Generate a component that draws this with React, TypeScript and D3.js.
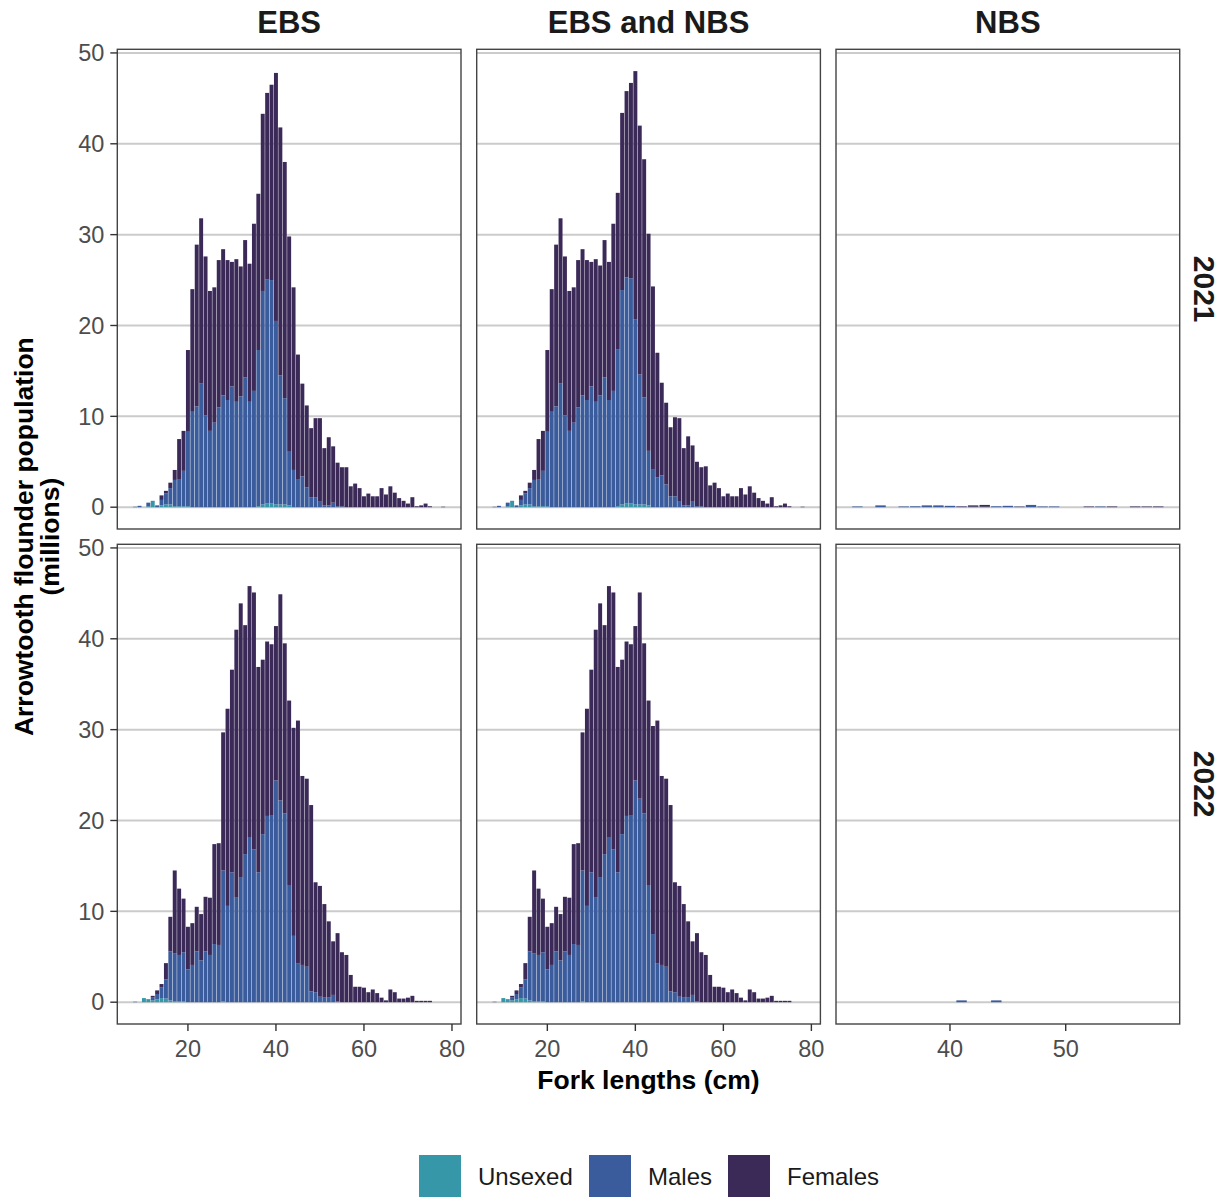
import React from 'react';
import * as d3 from 'd3';

// ---------- data (millions of fish by 1-cm fork length bin) ----------
const LEN_EBS = [8, 9, 10, 11, 12, 13, 14, 15, 16, 17, 18, 19, 20, 21, 22, 23, 24, 25, 26, 27, 28, 29, 30, 31, 32, 33, 34, 35, 36, 37, 38, 39, 40, 41, 42, 43, 44, 45, 46, 47, 48, 49, 50, 51, 52, 53, 54, 55, 56, 57, 58, 59, 60, 61, 62, 63, 64, 65, 66, 67, 68, 69, 70, 71, 72, 73, 74, 75, 76, 77, 78];
const LEN_NBS_2021 = [32, 33, 34, 35, 36, 37, 38, 39, 40, 41, 42, 43, 44, 45, 46, 47, 48, 49, 50, 51, 52, 53, 54, 55, 56, 57, 58];
const LEN_NBS_2022 = [41, 44];

// 2021 EBS
const EBS21_UNSEXED = [0, 0, 0, 0.1, 0.6, 0, 0.2, 0.3, 0.3, 0.1, 0.1, 0.1, 0.1, 0, 0, 0, 0, 0, 0, 0, 0, 0, 0, 0, 0, 0, 0, 0, 0.1, 0.3, 0.4, 0.4, 0.3, 0.3, 0.3, 0.2, 0, 0, 0, 0, 0, 0, 0, 0, 0, 0, 0, 0, 0, 0, 0, 0, 0, 0, 0, 0, 0, 0, 0, 0, 0, 0, 0, 0, 0, 0, 0, 0, 0, 0, 0];
const EBS21_MALES = [0.05, 0.15, 0, 0.4, 0.1, 0.2, 0.6, 1.2, 1.8, 2.9, 3.0, 3.9, 8.2, 10.5, 11.1, 13.6, 10.1, 8.4, 9.3, 11.0, 12.3, 11.8, 13.3, 11.6, 12.2, 14.3, 11.6, 12.8, 17.2, 23.5, 24.7, 24.6, 20.2, 14.2, 11.7, 5.9, 4.1, 3.1, 3.4, 2.2, 1.1, 1.1, 0.6, 0.2, 0.2, 0.5, 0.1, 0.1, 0, 0, 0, 0, 0, 0, 0, 0, 0, 0, 0, 0, 0, 0, 0, 0, 0, 0, 0, 0, 0, 0, 0];
const EBS21_FEMALES = [0, 0, 0, 0, 0, 0, 0.5, 0.3, 0.6, 1.1, 4.4, 4.4, 9.0, 13.5, 17.8, 18.2, 17.5, 15.4, 14.9, 16.2, 16.1, 15.4, 13.7, 15.7, 14.3, 15.1, 15.2, 18.4, 17.2, 19.5, 20.5, 21.5, 27.3, 27.3, 26.0, 23.7, 20.1, 13.7, 10.2, 9.0, 7.6, 8.7, 9.2, 6.3, 7.5, 6.2, 4.8, 4.3, 4.4, 2.3, 2.6, 2.1, 1.2, 1.5, 1.2, 1.2, 2.1, 1.4, 2.3, 1.6, 1.0, 0.7, 0.4, 1.1, 0.1, 0.2, 0.4, 0.1, 0, 0, 0.05];

// 2021 EBS and NBS
const ALL21_UNSEXED = [0, 0, 0, 0.1, 0.6, 0, 0.2, 0.3, 0.3, 0.1, 0.1, 0.1, 0.1, 0, 0, 0, 0, 0, 0, 0, 0, 0, 0, 0, 0, 0, 0, 0, 0.1, 0.3, 0.4, 0.4, 0.3, 0.3, 0.3, 0.2, 0, 0, 0, 0, 0, 0, 0, 0, 0, 0, 0, 0, 0, 0, 0, 0, 0, 0, 0, 0, 0, 0, 0, 0, 0, 0, 0, 0, 0, 0, 0, 0, 0, 0, 0];
const ALL21_MALES = [0.05, 0.15, 0, 0.4, 0.1, 0.2, 0.6, 1.2, 1.8, 2.9, 3.0, 3.9, 8.2, 10.5, 11.1, 13.6, 10.1, 8.4, 9.3, 11.0, 12.3, 11.8, 13.3, 11.6, 12.3, 14.3, 11.8, 12.8, 17.3, 23.6, 24.9, 24.8, 20.4, 14.3, 11.8, 6.0, 4.2, 3.3, 3.5, 2.5, 1.2, 1.2, 0.6, 0.2, 0.2, 0.6, 0.1, 0.1, 0, 0, 0, 0, 0, 0, 0, 0, 0, 0, 0, 0, 0, 0, 0, 0, 0, 0, 0, 0, 0, 0, 0];
const ALL21_FEMALES = [0, 0, 0, 0, 0, 0, 0.5, 0.3, 0.6, 1.1, 4.4, 4.4, 9.0, 13.5, 17.8, 18.2, 17.5, 15.4, 14.9, 16.2, 16.1, 15.4, 13.7, 15.7, 14.3, 15.1, 15.2, 18.4, 17.2, 19.5, 20.5, 21.5, 27.3, 27.4, 26.2, 23.9, 20.1, 13.7, 10.2, 9.0, 7.6, 8.7, 9.2, 6.3, 7.6, 6.2, 4.9, 4.3, 4.5, 2.4, 2.7, 2.1, 1.2, 1.5, 1.2, 1.2, 2.1, 1.4, 2.3, 1.6, 1.0, 0.7, 0.4, 1.1, 0.1, 0.2, 0.4, 0.1, 0, 0, 0.05];

// 2021 NBS
const NBS21_UNSEXED = [0, 0, 0, 0, 0, 0, 0, 0, 0, 0, 0, 0, 0, 0, 0, 0, 0, 0, 0, 0, 0, 0, 0, 0, 0, 0, 0];
const NBS21_MALES = [0.08, 0, 0.2, 0, 0.08, 0.1, 0.2, 0.2, 0.15, 0.05, 0.05, 0.05, 0.1, 0.15, 0.05, 0.25, 0.08, 0.08, 0, 0, 0.03, 0.08, 0, 0, 0, 0.03, 0];
const NBS21_FEMALES = [0, 0, 0, 0, 0, 0, 0, 0, 0, 0.05, 0.15, 0.2, 0, 0, 0.03, 0, 0, 0, 0, 0, 0.05, 0, 0.08, 0, 0.08, 0.05, 0.08];

// 2022 EBS
const EBS22_UNSEXED = [0, 0, 0.45, 0.3, 0.2, 0.3, 0.45, 0.4, 0.2, 0.1, 0.1, 0.1, 0, 0, 0, 0, 0, 0, 0, 0, 0.1, 0, 0, 0, 0, 0, 0, 0, 0, 0, 0, 0, 0, 0, 0, 0, 0, 0, 0, 0, 0, 0, 0, 0, 0, 0, 0, 0, 0, 0, 0, 0, 0, 0, 0, 0, 0, 0, 0, 0, 0, 0, 0, 0, 0, 0, 0, 0, 0, 0, 0];
const EBS22_MALES = [0.05, 0, 0, 0.05, 0.3, 0.6, 1.2, 2.1, 5.4, 5.3, 5.1, 5.4, 3.6, 4.1, 5.6, 4.6, 5.6, 5.2, 6.4, 6.3, 14.4, 10.6, 14.3, 11.5, 13.7, 16.3, 18.1, 16.8, 14.3, 18.5, 20.5, 20.6, 24.4, 22.2, 20.8, 12.9, 7.3, 4.3, 4.1, 3.9, 1.2, 1.1, 0.6, 0.5, 0.5, 0.8, 0.1, 0, 0, 0, 0, 0, 0, 0, 0, 0, 0, 0, 0, 0, 0, 0, 0, 0, 0, 0, 0, 0, 0, 0, 0];
const EBS22_FEMALES = [0, 0, 0, 0, 0.2, 0.4, 0.35, 1.8, 3.8, 9.1, 7.3, 5.9, 4.7, 4.6, 4.9, 5.1, 6.0, 6.3, 11.0, 11.2, 15.2, 21.7, 22.3, 29.5, 30.2, 25.2, 27.7, 28.3, 22.6, 19.2, 19.2, 18.8, 17.0, 22.7, 18.7, 20.3, 22.9, 26.7, 20.8, 20.7, 20.5, 12.1, 12.2, 10.3, 8.4, 5.9, 7.5, 5.5, 5.2, 3.0, 1.7, 1.7, 1.6, 1.1, 1.4, 1.0, 0.5, 0.2, 1.4, 1.1, 0.4, 0.4, 0.5, 0.7, 0.15, 0.15, 0.15, 0.15, 0, 0, 0];

// 2022 EBS and NBS
const ALL22_UNSEXED = [0, 0, 0.45, 0.3, 0.2, 0.3, 0.45, 0.4, 0.2, 0.1, 0.1, 0.1, 0, 0, 0, 0, 0, 0, 0, 0, 0.1, 0, 0, 0, 0, 0, 0, 0, 0, 0, 0, 0, 0, 0, 0, 0, 0, 0, 0, 0, 0, 0, 0, 0, 0, 0, 0, 0, 0, 0, 0, 0, 0, 0, 0, 0, 0, 0, 0, 0, 0, 0, 0, 0, 0, 0, 0, 0, 0, 0, 0];
const ALL22_MALES = [0.05, 0, 0, 0.05, 0.3, 0.6, 1.2, 2.1, 5.4, 5.3, 5.1, 5.4, 3.6, 4.1, 5.6, 4.6, 5.6, 5.2, 6.4, 6.3, 14.4, 10.6, 14.3, 11.5, 13.7, 16.3, 18.1, 16.8, 14.3, 18.5, 20.5, 20.6, 24.4, 22.4, 20.8, 12.9, 7.5, 4.3, 4.1, 3.9, 1.2, 1.1, 0.6, 0.5, 0.5, 0.8, 0.1, 0, 0, 0, 0, 0, 0, 0, 0, 0, 0, 0, 0, 0, 0, 0, 0, 0, 0, 0, 0, 0, 0, 0, 0];
const ALL22_FEMALES = [0, 0, 0, 0, 0.2, 0.4, 0.35, 1.8, 3.8, 9.1, 7.3, 5.9, 4.7, 4.6, 4.9, 5.1, 6.0, 6.3, 11.0, 11.2, 15.2, 21.7, 22.3, 29.5, 30.2, 25.2, 27.7, 28.3, 22.6, 19.2, 19.2, 18.8, 17.0, 22.7, 18.7, 20.3, 22.9, 26.7, 20.8, 20.7, 20.5, 12.1, 12.2, 10.3, 8.4, 5.9, 7.5, 5.5, 5.2, 3.0, 1.7, 1.7, 1.6, 1.1, 1.4, 1.0, 0.5, 0.2, 1.4, 1.1, 0.4, 0.4, 0.5, 0.7, 0.15, 0.15, 0.15, 0.15, 0, 0, 0];

// 2022 NBS
const NBS22_UNSEXED = [0, 0];
const NBS22_MALES = [0.2, 0.2];
const NBS22_FEMALES = [0, 0];

const REGIONS = ['EBS', 'EBS and NBS', 'NBS'];
const YEARS = ['2021', '2022'];
const SEXES = ['Unsexed', 'Males', 'Females'];
const SEX_COLORS = ['#3597a8', '#3b5c9c', '#3b2a58'];
const Y_TICKS = [0, 10, 20, 30, 40, 50];
const X_TICKS = [[20, 40, 60, 80], [20, 40, 60, 80], [40, 50]];
const X_TITLE = 'Fork lengths (cm)';
const Y_TITLE = ['Arrowtooth flounder population', '(millions)'];

type Panel = { len: number[]; u: number[]; m: number[]; f: number[] };
const PANELS: Panel[][] = [
  [
    { len: LEN_EBS, u: EBS21_UNSEXED, m: EBS21_MALES, f: EBS21_FEMALES },
    { len: LEN_EBS, u: ALL21_UNSEXED, m: ALL21_MALES, f: ALL21_FEMALES },
    { len: LEN_NBS_2021, u: NBS21_UNSEXED, m: NBS21_MALES, f: NBS21_FEMALES },
  ],
  [
    { len: LEN_EBS, u: EBS22_UNSEXED, m: EBS22_MALES, f: EBS22_FEMALES },
    { len: LEN_EBS, u: ALL22_UNSEXED, m: ALL22_MALES, f: ALL22_FEMALES },
    { len: LEN_NBS_2022, u: NBS22_UNSEXED, m: NBS22_MALES, f: NBS22_FEMALES },
  ],
];

// ---------- layout ----------
const W = 1226;
const H = 1197;
const COL_X = [117.3, 476.7, 836];
const ROW_Y = [49.3, 544.3];
const PW = 343.7;
const PH = 479.7;
const FONT = "'Liberation Sans', Arial, Helvetica, sans-serif";

export default function App() {
  const keys = ['u', 'm', 'f'];
  const stacked = PANELS.map((row) =>
    row.map((p) => {
      const rows = p.len.map((l, i) => ({ len: l, u: p.u[i], m: p.m[i], f: p.f[i] }));
      return d3.stack<any>().keys(keys)(rows);
    })
  );
  const maxTotal = d3.max(PANELS.flat(), (p) => d3.max(p.len, (_, i) => p.u[i] + p.m[i] + p.f[i])) as number;
  const y = d3.scaleLinear().domain([-0.05 * maxTotal, 1.05 * maxTotal]).range([PH, 0]);

  const xScales = [0, 1, 2].map((c) => {
    const all = [...PANELS[0][c].len, ...PANELS[1][c].len];
    const lo = (d3.min(all) as number) - 0.5;
    const hi = (d3.max(all) as number) + 0.5;
    const pad = (hi - lo) * 0.05;
    return d3.scaleLinear().domain([lo - pad, hi + pad]).range([0, PW]);
  });

  const tickColor = '#333333';
  const tickText = '#4d4d4d';

  return (
    <svg width={W} height={H} style={{ position: 'absolute', left: 0, top: 0 }} fontFamily={FONT}>
      <rect x={0} y={0} width={W} height={H} fill="#ffffff" />
      <defs>
        {COL_X.map((cx, c) =>
          ROW_Y.map((ry, r) => (
            <clipPath id={`clip-${r}-${c}`} key={`${r}-${c}`}>
              <rect x={0} y={0} width={PW} height={PH} />
            </clipPath>
          ))
        )}
      </defs>

      {/* column strips */}
      {REGIONS.map((reg, c) => (
        <text key={reg} x={COL_X[c] + PW / 2} y={33} textAnchor="middle" fontSize={31} fontWeight="bold" fill="#1a1a1a">
          {reg}
        </text>
      ))}
      {/* row strips */}
      {YEARS.map((yr, r) => (
        <text
          key={yr}
          transform={`translate(1194,${ROW_Y[r] + PH / 2}) rotate(90)`}
          textAnchor="middle"
          fontSize={30}
          fontWeight="bold"
          fill="#1a1a1a"
        >
          {yr}
        </text>
      ))}

      {PANELS.map((row, r) =>
        row.map((p, c) => {
          const x = xScales[c];
          const series = stacked[r][c];
          return (
            <g key={`${r}-${c}`} transform={`translate(${COL_X[c]},${ROW_Y[r]})`}>
              <rect x={0} y={0} width={PW} height={PH} fill="#ffffff" />
              {Y_TICKS.map((t) => (
                <line key={t} x1={0} x2={PW} y1={y(t)} y2={y(t)} stroke="#cbcbcb" strokeWidth={2} />
              ))}
              <g clipPath={`url(#clip-${r}-${c})`}>
                {series.map((s, k) => (
                  <g key={k} fill={SEX_COLORS[k]}>
                    {s.map((d: any, i: number) => {
                      const h = y(d[0]) - y(d[1]);
                      if (h <= 0) return null;
                      const l = d.data.len;
                      return (
                        <rect
                          key={i}
                          x={x(l - 0.45)}
                          width={x(l + 0.45) - x(l - 0.45)}
                          y={y(d[1])}
                          height={h}
                        />
                      );
                    })}
                  </g>
                ))}
              </g>
              <rect x={0} y={0} width={PW} height={PH} fill="none" stroke="#444444" strokeWidth={1.4} />
              {/* y axis on first column */}
              {c === 0 &&
                Y_TICKS.map((t) => (
                  <g key={t}>
                    <line x1={-7} x2={0} y1={y(t)} y2={y(t)} stroke={tickColor} strokeWidth={1.4} />
                    <text x={-13} y={y(t)} dy="0.35em" textAnchor="end" fontSize={23.5} fill={tickText}>
                      {t}
                    </text>
                  </g>
                ))}
              {/* x axis on bottom row */}
              {r === 1 &&
                X_TICKS[c].map((t) => (
                  <g key={t}>
                    <line x1={x(t)} x2={x(t)} y1={PH} y2={PH + 7} stroke={tickColor} strokeWidth={1.4} />
                    <text x={x(t)} y={PH + 33} textAnchor="middle" fontSize={23.5} fill={tickText}>
                      {t}
                    </text>
                  </g>
                ))}
            </g>
          );
        })
      )}

      {/* axis titles */}
      <text x={(COL_X[0] + COL_X[2] + PW) / 2} y={1089} textAnchor="middle" fontSize={26.5} fontWeight="bold" fill="#000">
        {X_TITLE}
      </text>
      {Y_TITLE.map((line, i) => (
        <text
          key={i}
          transform={`translate(${33 + i * 26},${(ROW_Y[0] + ROW_Y[1] + PH) / 2}) rotate(-90)`}
          textAnchor="middle"
          fontSize={26.5}
          fontWeight="bold"
          fill="#000"
        >
          {line}
        </text>
      ))}

      {/* legend */}
      {SEXES.map((s, i) => {
        const kx = [419, 589, 728][i];
        return (
          <g key={s}>
            <rect x={kx} y={1155} width={42} height={42} fill={SEX_COLORS[i]} />
            <text x={kx + 59} y={1185} fontSize={24} fill="#1a1a1a">
              {s}
            </text>
          </g>
        );
      })}
    </svg>
  );
}
